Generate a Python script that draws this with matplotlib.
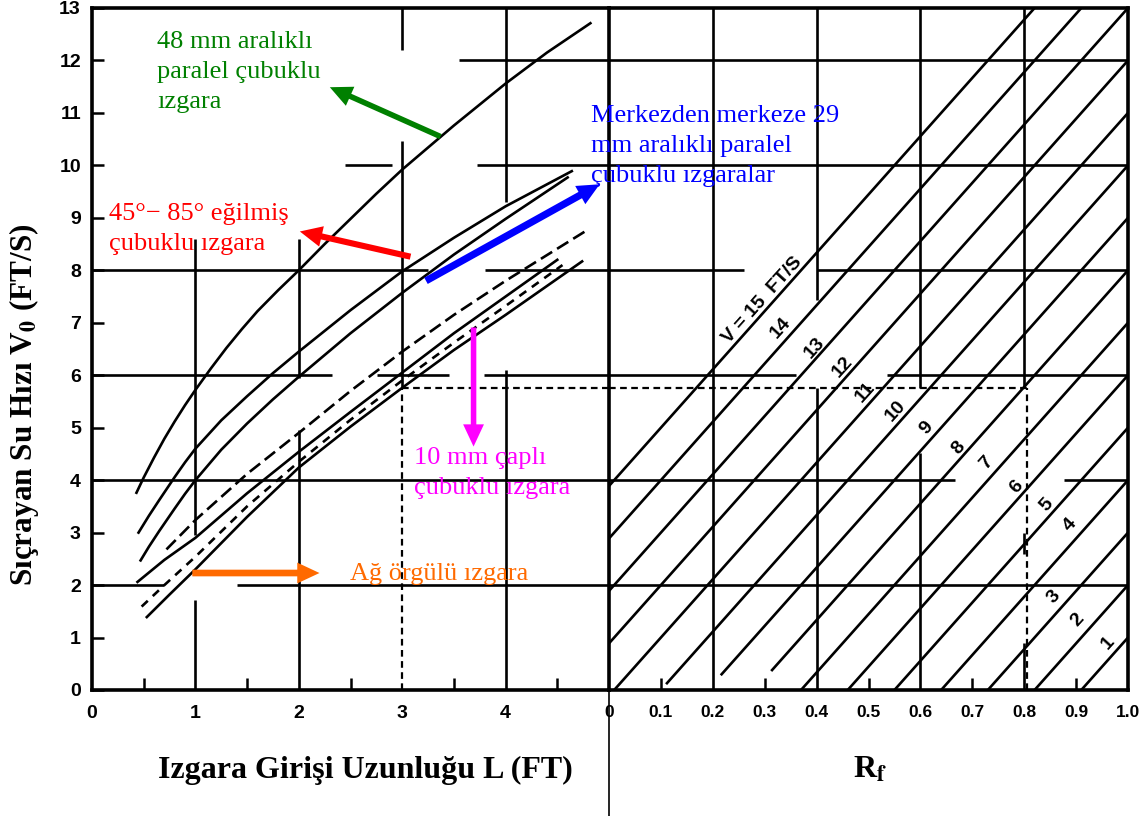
"""Splash-over velocity nomograph: grate length L against frontal flow efficiency Rf."""

import matplotlib
matplotlib.use("Agg")
import matplotlib.pyplot as plt
from matplotlib.lines import Line2D
import numpy as np

plt.rcParams["mathtext.fontset"] = "stix"

SERIF = ["Liberation Serif", "DejaVu Serif"]
SANS = ["Liberation Sans", "DejaVu Sans"]

# splash-over velocity V0 (ft/s) along each grate curve, against grate length L (ft)
bar48_L = [0.43, 0.5, 0.6, 0.7, 0.8, 0.9, 1.0, 1.15, 1.3, 1.45, 1.6, 1.8, 2.0, 2.25, 2.5,
           2.75, 3.0, 3.5, 4.0, 4.4, 4.82]
bar48_V0 = [3.76, 4.05, 4.43, 4.79, 5.12, 5.43, 5.72, 6.13, 6.52, 6.88, 7.22, 7.62, 8.0, 8.5,
            8.98, 9.46, 9.92, 10.76, 11.56, 12.15, 12.71]

tilt_L = [0.45, 0.55, 0.65, 0.8, 0.9, 1.0, 1.25, 1.5, 1.75, 2.0, 2.5, 3.0, 3.5, 4.0, 4.64]
tilt_V0 = [3.0, 3.32, 3.62, 4.06, 4.34, 4.6, 5.14, 5.6, 6.04, 6.45, 7.24, 7.98, 8.62, 9.22, 9.89]

bar29_L = [0.47, 0.55, 0.65, 0.8, 0.9, 1.0, 1.25, 1.5, 1.75, 2.0, 2.5, 3.0, 3.5, 4.0, 4.6]
bar29_V0 = [2.47, 2.73, 3.03, 3.46, 3.74, 4.0, 4.58, 5.08, 5.54, 5.97, 6.8, 7.57, 8.3, 8.98, 9.77]

rod10_L = [0.72, 1.0, 1.5, 2.0, 2.5, 3.0, 3.5, 4.0, 4.8]
rod10_V0 = [2.68, 3.24, 4.12, 4.9, 5.7, 6.45, 7.15, 7.8, 8.78]

curve_e_L = [0.44, 0.7, 1.0, 1.5, 2.0, 2.5, 3.0, 3.5, 4.0, 4.5]
curve_e_V0 = [2.06, 2.48, 2.9, 3.75, 4.54, 5.3, 6.05, 6.8, 7.5, 8.2]

curve_f_L = [0.48, 0.7, 1.0, 1.5, 2.0, 2.5, 3.0, 3.5, 4.0, 4.55]
curve_f_V0 = [1.59, 2.0, 2.54, 3.5, 4.35, 5.15, 5.9, 6.62, 7.32, 8.1]

mesh_L = [0.53, 0.75, 1.0, 1.5, 2.0, 2.5, 3.0, 3.5, 4.0, 4.74]
mesh_V0 = [1.39, 1.82, 2.3, 3.3, 4.24, 5.02, 5.76, 6.48, 7.15, 8.17]

# approach velocity lines, Rf = 1 - 0.09 (V - V0)
speeds = list(range(1, 16))
rf_drop = 0.09
# a few lines stop short of the bottom axis
speed_floor = {10: 0.13, 9: 0.3, 8: 0.38}

# worked example: L = 3 ft on the mesh curve, read across to Rf
example_L = 3.0
example_V0 = 5.76
example_Rf = 0.805

L_ticks = [0, 1, 2, 3, 4]
L_minor = [0.5, 1.5, 2.5, 3.5, 4.5]
rf_ticks = [0, 0.1, 0.2, 0.3, 0.4, 0.5, 0.6, 0.7, 0.8, 0.9, 1.0]
rf_tick_labels = ["0", "0.1", "0.2", "0.3", "0.4", "0.5", "0.6", "0.7", "0.8", "0.9", "1.0"]
rf_minor = [0.1, 0.3, 0.5, 0.7, 0.9]
v_ticks = list(range(0, 14))

W, H = 1141, 816
fig = plt.figure(figsize=(W / 100, H / 100), dpi=100)


def px_box(x0, y0, x1, y1):
    return [x0 / W, 1 - y1 / H, (x1 - x0) / W, (y1 - y0) / H]


ax_r = fig.add_axes(px_box(609, 8, 1128, 690))
ax_l = fig.add_axes(px_box(92, 8, 609, 690))
# left panel sits on top so its callouts can run over the Rf side
ax_l.set_zorder(3)
ax_l.patch.set_visible(False)

GRID_LW = 1.9
for ax in (ax_l, ax_r):
    ax.set_ylim(0, 13)
    for sp in ax.spines.values():
        sp.set_linewidth(2.6)
ax_l.set_xlim(0, 5)
ax_r.set_xlim(0, 1)
ax_l.spines["right"].set_visible(False)

# broken grid segments, left panel
l_hgrid = {2: [(0, 0.7), (1.4, 5)], 4: [(0, 5)], 6: [(0, 2.32), (2.76, 3.45), (3.79, 5)],
           8: [(0, 3.25), (3.8, 5)], 10: [(2.45, 2.9), (3.72, 5)], 12: [(3.55, 5)]}
l_vgrid = {1: [(0, 1.72), (2.95, 8.6)], 2: [(0, 4.95), (5.95, 8.6)],
           3: [(5.76, 10.46), (12.2, 13)], 4: [(0, 6.1), (9.3, 13)]}
r_hgrid = {2: [(0, 1)], 4: [(0, 0.666), (0.876, 1)], 6: [(0, 0.36), (0.535, 1)],
           8: [(0, 0.26), (0.4, 1)], 10: [(0, 1)], 12: [(0, 1)]}
r_vgrid = {0.2: [(0, 13)], 0.4: [(0, 5.76), (7.44, 13)], 0.6: [(0, 4.52), (5.76, 13)],
           0.8: [(5.76, 13), (2.6, 3.0), (0, 0.9)]}

for ax, hg, vg in ((ax_l, l_hgrid, l_vgrid), (ax_r, r_hgrid, r_vgrid)):
    for y, spans in hg.items():
        for a, b in spans:
            ax.hlines(y, a, b, color="black", lw=GRID_LW, zorder=1)
    for x, spans in vg.items():
        for a, b in spans:
            ax.vlines(x, a, b, color="black", lw=GRID_LW, zorder=1)

# grate curves
CURVE_LW = 1.9
ax_l.plot(bar48_L, bar48_V0, color="black", lw=CURVE_LW)
ax_l.plot(tilt_L, tilt_V0, color="black", lw=CURVE_LW)
ax_l.plot(bar29_L, bar29_V0, color="black", lw=CURVE_LW)
ax_l.plot(rod10_L, rod10_V0, color="black", lw=CURVE_LW, ls=(0, (5, 2.2)))
ax_l.plot(curve_e_L, curve_e_V0, color="black", lw=CURVE_LW)
ax_l.plot(curve_f_L, curve_f_V0, color="black", lw=CURVE_LW, ls=(0, (3.2, 2.6)))
ax_l.plot(mesh_L, mesh_V0, color="black", lw=CURVE_LW)

# velocity lines on the Rf side
for v in speeds:
    lo = max(0.0, 1 - rf_drop * (v - speed_floor.get(v, 0.0)))
    rf = np.array([lo, 1.0])
    ax_r.plot(rf, v - (1 - rf) / rf_drop, color="black", lw=CURVE_LW)

label_pos = {15: (0.295, 7.44), 14: (0.331, 6.9), 13: (0.396, 6.52), 12: (0.450, 6.15),
             11: (0.494, 5.67), 10: (0.552, 5.31), 9: (0.612, 5.0), 8: (0.674, 4.62),
             7: (0.728, 4.33), 6: (0.786, 3.87), 5: (0.844, 3.53), 4: (0.888, 3.15),
             3: (0.857, 1.77), 2: (0.903, 1.34), 1: (0.961, 0.90)}
for v in speeds:
    txt = "V = 15  FT/S" if v == 15 else str(v)
    x, y = label_pos[v]
    ax_r.text(x, y, txt, rotation=48, rotation_mode="anchor", ha="center", va="center",
              fontsize=14, fontweight="bold", family=SANS, zorder=4)

# worked example, dashed
EX_STYLE = dict(color="black", lw=1.6, ls=(0, (3, 2)), zorder=2)
ax_l.plot([example_L, 5], [example_V0, example_V0], **EX_STYLE)
ax_l.plot([example_L, example_L], [0, example_V0], **EX_STYLE)
ax_r.plot([0, example_Rf], [example_V0, example_V0], **EX_STYLE)
ax_r.plot([example_Rf, example_Rf], [0, example_V0], **EX_STYLE)

# ticks
ax_l.set_xticks(L_ticks)
ax_l.set_xticks(L_minor, minor=True)
ax_l.set_yticks(v_ticks)
ax_l.tick_params(axis="x", which="major", length=0, pad=11)
ax_l.tick_params(axis="x", which="minor", direction="in", length=8.5, width=1.8)
ax_l.tick_params(axis="y", which="major", direction="in", length=8.5, width=1.8, pad=8)

ax_r.xaxis.remove_overlapping_locs = False
ax_r.set_xticks(rf_ticks, rf_tick_labels)
ax_r.set_xticks(rf_minor, minor=True)
ax_r.set_yticks([])
ax_r.tick_params(axis="x", which="major", length=0, pad=11)
ax_r.tick_params(axis="x", which="minor", direction="in", length=8.5, width=1.8)

for lab in ax_l.get_xticklabels() + ax_l.get_yticklabels():
    lab.set_family(SANS)
    lab.set_fontweight("bold")
    lab.set_fontsize(14)
for lab in ax_r.get_xticklabels():
    lab.set_family(SANS)
    lab.set_fontweight("bold")
    lab.set_fontsize(12.5)

# colored callouts
TXT = dict(fontsize=19, family=SERIF, ha="left", va="top", linespacing=1.48, zorder=5)
ax_l.text(0.63, 12.56, "48 mm aralıklı\nparalel çubuklu\nızgara", color="green", **TXT)
ax_l.text(0.16, 9.28, "45°− 85° eğilmiş\nçubuklu ızgara", color="red", **TXT)
ax_l.text(4.83, 11.15, "Merkezden merkeze 29\nmm aralıklı paralel\nçubuklu ızgaralar",
          color="blue", **TXT)
ax_l.text(3.11, 4.63, "10 mm çaplı\nçubuklu ızgara", color="magenta", **TXT)
ax_l.text(2.5, 2.42, "Ağ örgülü ızgara", color="#ff6a00", **TXT)

arrows = [
    ((3.37, 10.55), (2.30, 11.49), "green", 0.2),
    ((3.08, 8.26), (2.01, 8.74), "red", 0.22),
    ((3.23, 7.80), (4.91, 9.64), "blue", 0.26),
    ((3.69, 6.91), (3.69, 4.64), "magenta", 0.2),
    ((0.97, 2.23), (2.20, 2.23), "#ff6a00", 0.24),
]
for tail, head, c, tw in arrows:
    ax_l.annotate("", xy=head, xytext=tail, zorder=6, annotation_clip=False,
                  arrowprops=dict(arrowstyle=f"simple,head_length=0.8,head_width=0.75,tail_width={tw}",
                                  color=c, lw=0, mutation_scale=20, shrinkA=0, shrinkB=0))

# axis titles
fig.text(24 / W, 1 - 405 / H, r"Sıçrayan Su Hızı V$_\mathbf{0}$ (FT/S)", rotation=90,
         ha="center", va="center", fontsize=22.5, fontweight="bold", family=SERIF)
fig.text(365 / W, 1 - 770 / H, "Izgara Girişi Uzunluğu L (FT)", ha="center", va="center",
         fontsize=23, fontweight="bold", family=SERIF)
fig.text(870 / W, 1 - 770 / H, r"R$_\mathbf{f}$", ha="center", va="center",
         fontsize=23, fontweight="bold", family=SERIF)

# separator under the two scales
fig.add_artist(Line2D([609 / W, 609 / W], [0, 1 - 690 / H], color="black", lw=1.2))

fig.savefig("out.png", dpi=100)
